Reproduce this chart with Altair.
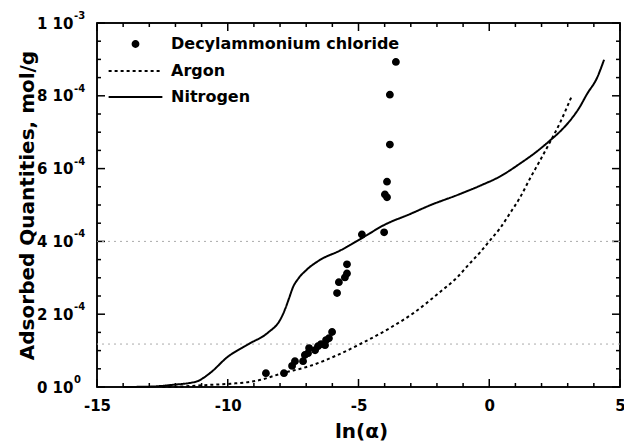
import altair as alt
import pandas as pd

# ---------------- data ----------------
series_names = ["Decylammonium chloride", "Argon", "Nitrogen"]

dec_x = [-8.54, -7.85, -7.54, -7.43, -7.12, -7.05, -6.93, -6.89, -6.66, -6.55,
         -6.43, -6.28, -6.24, -6.13, -6.01, -5.82, -5.75, -5.52, -5.44, -5.44,
         -4.87, -4.02, -3.99, -3.91, -3.91, -3.80, -3.80, -3.57]
dec_y = [3.8e-5, 3.8e-5, 5.8e-5, 7.1e-5, 7.1e-5, 8.8e-5, 9.3e-5, 10.7e-5, 10.1e-5, 11.2e-5,
         11.8e-5, 11.5e-5, 12.9e-5, 13.4e-5, 15.1e-5, 25.8e-5, 28.8e-5, 30.1e-5, 31.2e-5, 33.7e-5,
         41.9e-5, 42.5e-5, 52.9e-5, 52.1e-5, 56.4e-5, 66.6e-5, 80.3e-5, 89.3e-5]

ar_x = [-12.5, -11.9, -10.9, -9.9, -8.9, -7.9, -6.85, -5.8, -4.8, -3.8, -2.9, -1.9,
        -1.23, -0.74, -0.35, 0.03, 0.41, 0.79, 1.18, 1.56, 1.94, 2.25, 2.7, 3.13]
ar_y = [0.0, 0.1e-5, 0.5e-5, 0.9e-5, 1.7e-5, 3.8e-5, 5.8e-5, 8.8e-5, 12.3e-5, 16.2e-5, 20.3e-5, 26.0e-5,
        30.1e-5, 34.0e-5, 37.0e-5, 40.3e-5, 43.6e-5, 47.7e-5, 52.1e-5, 57.3e-5, 62.2e-5, 66.3e-5, 72.5e-5, 79.5e-5]

n2_x = [-14.0, -13.0, -12.1, -11.2, -10.7, -10.0, -9.2, -8.45, -8.0, -7.8, -7.65, -7.5,
        -7.3, -7.0, -6.5, -5.7, -4.8, -4.05, -3.0, -2.27, -1.2, -0.35, 0.4, 1.18,
        1.8, 2.32, 2.75, 3.09, 3.45, 3.74, 4.12, 4.39]
n2_y = [0.0, 0.1e-5, 0.6e-5, 1.5e-5, 3.7e-5, 8.3e-5, 11.8e-5, 15.0e-5, 18.4e-5, 21.5e-5, 24.5e-5, 27.5e-5,
        29.8e-5, 32.1e-5, 34.8e-5, 37.5e-5, 41.2e-5, 44.4e-5, 47.6e-5, 49.9e-5, 52.8e-5, 55.3e-5, 57.8e-5, 61.4e-5,
        64.6e-5, 67.7e-5, 70.5e-5, 73.2e-5, 76.8e-5, 80.5e-5, 84.9e-5, 89.9e-5]

ref_y = [4.0e-4, 1.18e-4]

x_domain = [-15.0, 5.0]
y_domain = [0.0, 1e-3]
x_major = [-15.0, -10.0, -5.0, 0.0, 5.0]
x_minor = [float(v) for v in range(-15, 6) if v % 5 != 0]
y_major = [round(i * 2e-4, 7) for i in range(6)]
y_minor = [round(i * 5e-5, 7) for i in range(21) if i % 4 != 0]
y_main_labels = ["0 10", "2 10", "4 10", "6 10", "8 10", "1 10"]
y_sup_labels = ["0", "-4", "-4", "-4", "-4", "-3"]

# ---------------- tables ----------------
pts = pd.DataFrame({"x": dec_x, "y": dec_y, "series": series_names[0]})
lines = pd.concat([
    pd.DataFrame({"x": ar_x, "y": ar_y, "series": series_names[1]}),
    pd.DataFrame({"x": n2_x, "y": n2_y, "series": series_names[2]}),
])
refs = pd.DataFrame({"y": ref_y})
sup_df = pd.DataFrame({"y": y_major, "t": y_sup_labels})
frame_df = pd.DataFrame({"fx": [x_domain[0]], "fx2": [x_domain[1]],
                         "fy": [y_domain[0]], "fy2": [y_domain[1]]})
xt_major = pd.DataFrame({"xt": x_major})
xt_minor = pd.DataFrame({"xtm": x_minor})
yt_major = pd.DataFrame({"yt": y_major})
yt_minor = pd.DataFrame({"ytm": y_minor})

FONT = "DejaVu Sans"
W, H = 523, 364


def lookup_expr(labels):
    pairs = ", ".join(f"'{round(v * 1e4)}': '{t}'" for v, t in zip(y_major, labels))
    return "({" + pairs + "})[round(datum.value*1e4) + '']"


xs = alt.Scale(domain=x_domain, nice=False, zero=False)
ys = alt.Scale(domain=y_domain, nice=False, zero=False)

x_axis = alt.Axis(
    orient="bottom", values=x_major, title="ln(α)", ticks=False, grid=False, domain=False,
    labelExpr="'' + datum.value",
    labelPadding=11, labelFlush=False, labelOverlap=False, labelBound=False,
    labelFont=FONT, labelFontSize=15, labelFontWeight="bold", labelColor="black",
    titleFont=FONT, titleFontSize=20, titleFontWeight="bold", titleColor="black",
    titleX=264, titleY=50, titleBaseline="alphabetic", titleAlign="center",
)
y_axis = alt.Axis(
    orient="left", values=y_major, title="Adsorbed Quantities, mol/g", ticks=False, grid=False, domain=False,
    labelExpr=lookup_expr(y_main_labels),
    labelPadding=24, labelOverlap=False, labelBound=False, labelFlush=False,
    labelAlign="right", labelBaseline="middle",
    labelFont=FONT, labelFontSize=15, labelFontWeight="bold", labelColor="black",
    titleFont=FONT, titleFontSize=20, titleFontWeight="bold", titleColor="black",
    titleX=-64, titleY=182, titleAngle=270, titleBaseline="alphabetic", titleAlign="center",
)


def X(field):
    return alt.X(field, scale=xs, axis=x_axis)


def Y(field):
    return alt.Y(field, scale=ys, axis=y_axis)


legend_common = dict(
    title=None, orient="none", legendX=30.5,
    symbolSize=40, symbolOffset=0, labelOffset=27.5, padding=0, rowPadding=10,
    labelFont=FONT, labelFontSize=16, labelFontWeight="bold", labelColor="black",
    labelLimit=400,
)
point_legend = alt.Legend(legendY=13, **legend_common)
line_legend = alt.Legend(legendY=40, symbolType="M-8.5,0H8.5", symbolStrokeWidth=2,
                         symbolStrokeColor="black", **legend_common)

shape_scale = alt.Scale(domain=series_names[:1], range=["circle"])
dash_scale = alt.Scale(domain=series_names[1:], range=[[3, 3], [1, 0]])

# ---- frame and inward ticks (drawn first) ----
frame_layer = alt.Chart(frame_df).mark_rect(
    fillOpacity=0, fill="white", stroke="black", strokeWidth=1.5, strokeOpacity=1
).encode(x=X("fx:Q"), x2="fx2:Q", y=Y("fy:Q"), y2="fy2:Q")

tick_layers = [
    alt.Chart(xt_major).mark_rule(color="black", strokeWidth=1.5).encode(
        x=X("xt:Q"), y=alt.value(H), y2=alt.value(H - 8)),
    alt.Chart(xt_minor).mark_rule(color="black", strokeWidth=1.5).encode(
        x=X("xtm:Q"), y=alt.value(H), y2=alt.value(H - 4)),
    alt.Chart(xt_major).mark_rule(color="black", strokeWidth=1.5).encode(
        x=X("xt:Q"), y=alt.value(0), y2=alt.value(8)),
    alt.Chart(xt_minor).mark_rule(color="black", strokeWidth=1.5).encode(
        x=X("xtm:Q"), y=alt.value(0), y2=alt.value(4)),
    alt.Chart(yt_major).mark_rule(color="black", strokeWidth=1.5).encode(
        y=Y("yt:Q"), x=alt.value(0), x2=alt.value(8)),
    alt.Chart(yt_minor).mark_rule(color="black", strokeWidth=1.5).encode(
        y=Y("ytm:Q"), x=alt.value(0), x2=alt.value(4)),
    alt.Chart(yt_major).mark_rule(color="black", strokeWidth=1.5).encode(
        y=Y("yt:Q"), x=alt.value(W), x2=alt.value(W - 8)),
    alt.Chart(yt_minor).mark_rule(color="black", strokeWidth=1.5).encode(
        y=Y("ytm:Q"), x=alt.value(W), x2=alt.value(W - 4)),
]

# ---- data layers ----
rules = alt.Chart(refs).mark_rule(color="#aaaaaa", strokeDash=[2, 4], strokeWidth=1).encode(
    y=Y("y:Q")
)

line_layer = alt.Chart(lines).mark_line(color="black", strokeWidth=2, interpolate="monotone").encode(
    x=X("x:Q"), y=Y("y:Q"),
    strokeDash=alt.StrokeDash("series:N", scale=dash_scale, legend=line_legend),
)

point_layer = alt.Chart(pts).mark_point(
    filled=True, fill="black", stroke="black", strokeWidth=1.5, size=40, opacity=1
).encode(
    x=X("x:Q"), y=Y("y:Q"),
    shape=alt.Shape("series:N", scale=shape_scale, legend=point_legend),
)

sup = alt.Chart(sup_df).mark_text(
    align="left", baseline="middle", dy=-7, font=FONT, fontSize=10, fontWeight="bold", color="black"
).encode(y=Y("y:Q"), x=alt.value(-23), text="t:N")

chart = alt.layer(frame_layer, *tick_layers, rules, line_layer, point_layer, sup).properties(
    width=W, height=H,
    autosize=alt.AutoSizeParams(type="none"),
    padding={"left": 97, "top": 23, "right": 4, "bottom": 56},
    background="white",
).configure_view(stroke="black", strokeWidth=1.5)

chart.save("out.html", embed_options={"renderer": "svg", "actions": False})
